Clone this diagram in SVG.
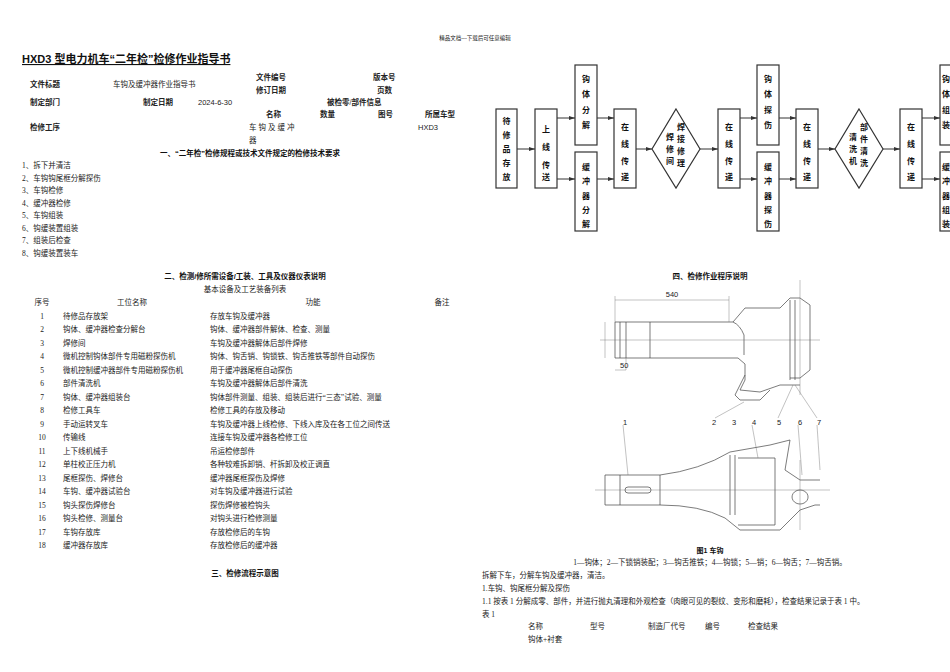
<svg xmlns="http://www.w3.org/2000/svg" width="950" height="672" viewBox="0 0 950 672">
<style>
text{font-family:"Liberation Serif","Noto Sans CJK SC",serif;font-size:7.5px;fill:#222}
.b{font-family:"Liberation Sans","Noto Sans CJK SC",sans-serif;font-weight:bold;fill:#111}
.s{font-family:"Liberation Sans","Noto Sans CJK SC",sans-serif}
.c{text-anchor:middle}
.bx{fill:#fff;stroke:#333;stroke-width:1.2}
.fl{font-family:"Noto Sans CJK SC",sans-serif;font-weight:bold;font-size:8px;fill:#111;text-anchor:middle}
.ln{stroke:#333;stroke-width:1;fill:none}
.dr{stroke:#444;stroke-width:0.7;fill:none}
.th{stroke:#666;stroke-width:0.4;fill:none}
</style>
<defs><marker id="ar" markerWidth="6" markerHeight="4" refX="6" refY="2" orient="auto"><path d="M0,0L6,2L0,4z" fill="#333"/></marker></defs>
<rect width="950" height="672" fill="#fff"/>
<text x="475" y="40" class="c" style="font-size:5.5px">精品文档---下载后可任意编辑</text>
<text x="22" y="63" class="b" style="font-size:11px;text-decoration:underline">HXD3 型电力机车“二年检”检修作业指导书</text>
<g class="b">
<text x="30" y="87">文件标题</text><text x="256" y="80">文件编号</text><text x="373" y="80">版本号</text>
<text x="256" y="93">修订日期</text><text x="377" y="93">页数</text>
<text x="30" y="105">制定部门</text><text x="143" y="105">制定日期</text><text x="327" y="105">被检零/部件信息</text>
<text x="266" y="117">名称</text><text x="320" y="117">数量</text><text x="378" y="117">图号</text><text x="425" y="117">所属车型</text>
<text x="30" y="130">检修工序</text>
</g>
<text x="113" y="87">车钩及缓冲器作业指导书</text>
<text x="198" y="105" class="s">2024-6-30</text>
<text x="249" y="130" style="letter-spacing:2px">车钩及缓冲</text><text x="249" y="143">器</text>
<text x="418" y="130" class="s">HXD3</text>
<text x="250" y="156" class="b c">一、“二年检”检修规程或技术文件规定的检修技术要求</text>
<g>
<text x="22" y="168">1、拆下并清洁</text><text x="22" y="181">2、车钩钩尾框分解探伤</text><text x="22" y="193">3、车钩检修</text><text x="22" y="206">4、缓冲器检修</text><text x="22" y="218">5、车钩组装</text><text x="22" y="231">6、钩缓装置组装</text><text x="22" y="243">7、组装后检查</text><text x="22" y="256">8、钩缓装置装车</text>
</g>
<text x="245" y="279" class="b c">二、检测/修所需设备/工装、工具及仪器仪表说明</text>
<text x="245" y="292" class="c">基本设备及工艺装备列表</text>
<text x="42" y="305" class="c">序号</text><text x="132" y="305" class="c">工位名称</text><text x="313" y="305" class="c">功能</text><text x="442" y="305" class="c">备注</text>
<g id="table">
<text x="42" y="319" class="c">1</text><text x="63" y="319">待修品存放架</text><text x="210" y="319">存放车钩及缓冲器</text>
<text x="42" y="332" class="c">2</text><text x="63" y="332">钩体、缓冲器检查分解台</text><text x="210" y="332">钩体、缓冲器部件解体、检查、测量</text>
<text x="42" y="346" class="c">3</text><text x="63" y="346">焊修间</text><text x="210" y="346">车钩及缓冲器解体后部件焊修</text>
<text x="42" y="359" class="c">4</text><text x="63" y="359">微机控制钩体部件专用磁粉探伤机</text><text x="210" y="359">钩体、钩舌销、钩锁铁、钩舌推铁等部件自动探伤</text>
<text x="42" y="373" class="c">5</text><text x="63" y="373">微机控制缓冲器部件专用磁粉探伤机</text><text x="210" y="373">用于缓冲器尾框自动探伤</text>
<text x="42" y="386" class="c">6</text><text x="63" y="386">部件清洗机</text><text x="210" y="386">车钩及缓冲器解体后部件清洗</text>
<text x="42" y="400" class="c">7</text><text x="63" y="400">钩体、缓冲器组装台</text><text x="210" y="400">钩体部件测量、组装、组装后进行“三态”试验、测量</text>
<text x="42" y="413" class="c">8</text><text x="63" y="413">检修工具车</text><text x="210" y="413">检修工具的存放及移动</text>
<text x="42" y="427" class="c">9</text><text x="63" y="427">手动运转叉车</text><text x="210" y="427">车钩及缓冲器上线检修、下线入库及在各工位之间传送</text>
<text x="42" y="440" class="c">10</text><text x="63" y="440">传输线</text><text x="210" y="440">连接车钩及缓冲器各检修工位</text>
<text x="42" y="454" class="c">11</text><text x="63" y="454">上下线机械手</text><text x="210" y="454">吊运检修部件</text>
<text x="42" y="467" class="c">12</text><text x="63" y="467">单柱校正压力机</text><text x="210" y="467">各种较难拆卸销、杆拆卸及校正调直</text>
<text x="42" y="481" class="c">13</text><text x="63" y="481">尾框探伤、焊修台</text><text x="210" y="481">缓冲器尾框探伤及焊修</text>
<text x="42" y="494" class="c">14</text><text x="63" y="494">车钩、缓冲器试验台</text><text x="210" y="494">对车钩及缓冲器进行试验</text>
<text x="42" y="508" class="c">15</text><text x="63" y="508">钩头探伤焊修台</text><text x="210" y="508">探伤焊修被检钩头</text>
<text x="42" y="521" class="c">16</text><text x="63" y="521">钩头检修、测量台</text><text x="210" y="521">对钩头进行检修测量</text>
<text x="42" y="535" class="c">17</text><text x="63" y="535">车钩存放库</text><text x="210" y="535">存放检修后的车钩</text>
<text x="42" y="548" class="c">18</text><text x="63" y="548">缓冲器存放库</text><text x="210" y="548">存放检修后的缓冲器</text>
</g>
<text x="245" y="576" class="b c">三、检修流程示意图</text>
<g id="connectors">
<path class="ln" marker-end="url(#ar)" d="M517,149H535"/>
<path class="ln" marker-end="url(#ar)" d="M557,118H575"/><path class="ln" marker-end="url(#ar)" d="M557,179H575"/>
<path class="ln" marker-end="url(#ar)" d="M597,118H614"/><path class="ln" marker-end="url(#ar)" d="M597,179H614"/>
<path class="ln" marker-end="url(#ar)" d="M636,149H652"/><path class="ln" marker-end="url(#ar)" d="M700,149H718"/>
<path class="ln" marker-end="url(#ar)" d="M740,118H757"/><path class="ln" marker-end="url(#ar)" d="M740,179H757"/>
<path class="ln" marker-end="url(#ar)" d="M779,118H796"/><path class="ln" marker-end="url(#ar)" d="M779,179H796"/>
<path class="ln" marker-end="url(#ar)" d="M818,149H835"/><path class="ln" marker-end="url(#ar)" d="M883,149H900"/>
<path class="ln" marker-end="url(#ar)" d="M922,118H940"/><path class="ln" marker-end="url(#ar)" d="M922,179H940"/>
</g>
<g id="n1"><rect class="bx" x="496" y="109" width="21" height="79"/><text class="fl"><tspan x="506.5" y="124">待</tspan><tspan x="506.5" y="138">修</tspan><tspan x="506.5" y="152">品</tspan><tspan x="506.5" y="166">存</tspan><tspan x="506.5" y="180">放</tspan></text></g>
<g id="n2"><rect class="bx" x="535" y="109" width="22" height="79"/><text class="fl"><tspan x="546" y="132">上</tspan><tspan x="546" y="150">线</tspan><tspan x="546" y="168">传</tspan><tspan x="546" y="180">送</tspan></text></g>
<g id="n3"><rect class="bx" x="575" y="65" width="22" height="80"/><text class="fl"><tspan x="586" y="82">钩</tspan><tspan x="586" y="97">体</tspan><tspan x="586" y="113">分</tspan><tspan x="586" y="128">解</tspan></text></g>
<g id="n4"><rect class="bx" x="575" y="152" width="22" height="79"/><text class="fl"><tspan x="586" y="170">缓</tspan><tspan x="586" y="184">冲</tspan><tspan x="586" y="199">器</tspan><tspan x="586" y="213">分</tspan><tspan x="586" y="227">解</tspan></text></g>
<g id="n5"><rect class="bx" x="614" y="109" width="22" height="79"/><text class="fl"><tspan x="625" y="130">在</tspan><tspan x="625" y="147">线</tspan><tspan x="625" y="164">传</tspan><tspan x="625" y="180">递</tspan></text></g>
<g id="n6"><path class="bx" d="M676,109L700,149L676,188L652,149z"/><text class="fl"><tspan x="681" y="130">焊</tspan><tspan x="681" y="142">接</tspan><tspan x="681" y="154">修</tspan><tspan x="681" y="166">理</tspan><tspan x="670" y="140">焊</tspan><tspan x="670" y="152">修</tspan><tspan x="670" y="164">间</tspan></text></g>
<g id="n7"><rect class="bx" x="718" y="109" width="22" height="79"/><text class="fl"><tspan x="729" y="130">在</tspan><tspan x="729" y="147">线</tspan><tspan x="729" y="164">传</tspan><tspan x="729" y="180">递</tspan></text></g>
<g id="n8"><rect class="bx" x="757" y="65" width="22" height="80"/><text class="fl"><tspan x="768" y="82">钩</tspan><tspan x="768" y="97">体</tspan><tspan x="768" y="113">探</tspan><tspan x="768" y="128">伤</tspan></text></g>
<g id="n9"><rect class="bx" x="757" y="152" width="22" height="79"/><text class="fl"><tspan x="768" y="170">缓</tspan><tspan x="768" y="184">冲</tspan><tspan x="768" y="199">器</tspan><tspan x="768" y="213">探</tspan><tspan x="768" y="227">伤</tspan></text></g>
<g id="n10"><rect class="bx" x="796" y="109" width="22" height="79"/><text class="fl"><tspan x="807" y="130">在</tspan><tspan x="807" y="147">线</tspan><tspan x="807" y="164">传</tspan><tspan x="807" y="180">递</tspan></text></g>
<g id="n11"><path class="bx" d="M859,109L883,149L859,188L835,149z"/><text class="fl"><tspan x="864" y="130">部</tspan><tspan x="864" y="142">件</tspan><tspan x="864" y="154">清</tspan><tspan x="864" y="166">洗</tspan><tspan x="853" y="140">清</tspan><tspan x="853" y="152">洗</tspan><tspan x="853" y="164">机</tspan></text></g>
<g id="n12"><rect class="bx" x="900" y="109" width="22" height="79"/><text class="fl"><tspan x="911" y="130">在</tspan><tspan x="911" y="147">线</tspan><tspan x="911" y="164">传</tspan><tspan x="911" y="180">递</tspan></text></g>
<g id="n13"><rect class="bx" x="940" y="65" width="22" height="80"/><text class="fl"><tspan x="946" y="82">钩</tspan><tspan x="946" y="97">体</tspan><tspan x="946" y="113">组</tspan><tspan x="946" y="128">装</tspan></text></g>
<g id="n14"><rect class="bx" x="940" y="152" width="22" height="79"/><text class="fl"><tspan x="946" y="170">缓</tspan><tspan x="946" y="184">冲</tspan><tspan x="946" y="199">器</tspan><tspan x="946" y="213">组</tspan><tspan x="946" y="227">装</tspan></text></g>
<text x="710" y="279" class="b c">四、检修作业程序说明</text>
<g id="drawing">
<path class="dr" d="M615,322H733L745,308H780L790,298H800L810,305V370L800,378H790"/>
<path class="dr" d="M615,358H738L745,364V380L740,390L760,392L780,385H800"/>
<path class="dr" d="M615,322V358M620,322V358M626,322V358M650,322V358"/>
<path class="dr" d="M733,322Q740,325 744,335V355"/>
<path class="dr" d="M790,300V380M795,300V380"/>
<path class="dr" d="M745,375L735,395L740,400L760,400L770,390"/>
<path class="th" d="M615,300H729M615,296V322M729,296V322M600,340H820M605,322V358M626,358V370M615,370H626M800,280V395"/>
<path class="th" d="M744,402L715,418M793,385L778,418M795,385L817,418"/>
<path class="dr" d="M605,475H660Q700,470 730,452L770,445L790,440L785,470L800,480H820"/>
<path class="dr" d="M605,505H660Q700,505 725,518L740,530H780L790,520L800,510L815,505H820"/>
<path class="dr" d="M605,475V505M620,475V505M660,475V505"/>
<path class="dr" d="M730,455V515M735,455V515M738,458H775V525H738"/>
<path class="dr" d="M800,490a8,7 0 1,0 0.1,0"/>
<path class="dr" d="M628,487h20a3,3 0 0,1 0,6h-20a3,3 0 0,1 0,-6"/>
<path class="th" d="M595,490H830M800,460V530M623,425L628,475M752,425L758,458M798,425L802,475M817,425L820,470"/>
</g>
<g style="font-size:5px">
<text x="672" y="297" class="c s">540</text><text x="620" y="368" class="s">50</text>
<text x="623" y="425" class="s">1</text><text x="712" y="425" class="s">2</text><text x="732" y="425" class="s">3</text><text x="752" y="425" class="s">4</text><text x="777" y="425" class="s">5</text><text x="798" y="425" class="s">6</text><text x="817" y="425" class="s">7</text>
</g>
<text x="710" y="553" class="b c" style="font-size:7px">图1 车钩</text>
<text x="710" y="565" class="c">1—钩体；2—下锁销装配；3—钩舌推铁；4—钩锁；5—销；6—钩舌；7—钩舌销。</text>
<text x="482" y="578">拆解下车，分解车钩及缓冲器，清洁。</text>
<text x="482" y="591">1.车钩、钩尾框分解及探伤</text>
<text x="482" y="604">1.1 按表 1 分解成零、部件，并进行抛丸清理和外观检查（肉眼可见的裂纹、变形和磨耗），检查结果记录于表 1 中。</text>
<text x="482" y="617">表 1</text>
<text x="528" y="629">名称</text><text x="590" y="629">型号</text><text x="648" y="629">制造厂代号</text><text x="705" y="629">编号</text><text x="748" y="629">检查结果</text>
<text x="528" y="642">钩体+衬套</text>
</svg>
